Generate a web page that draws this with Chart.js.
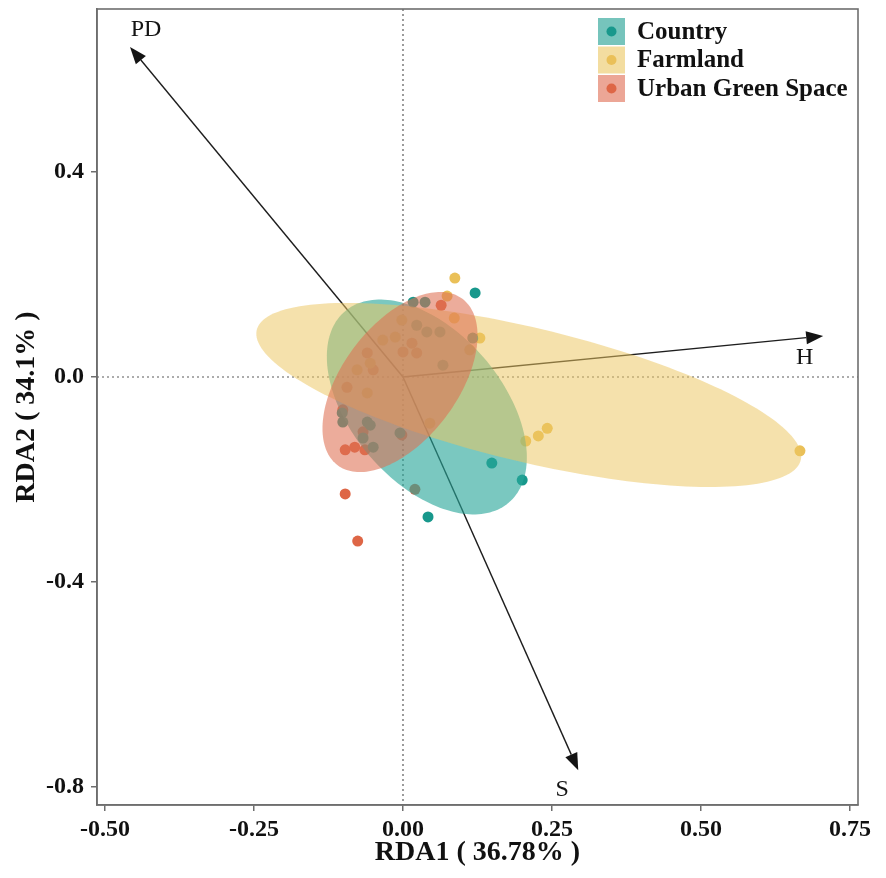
<!DOCTYPE html>
<html>
<head>
<meta charset="utf-8">
<script src="https://cdn.jsdelivr.net/npm/chart.js@4/dist/chart.umd.min.js"></script>
<style>
html,body{margin:0;padding:0;background:#fff;}
#wrap{width:886px;height:878px;}
</style>
</head>
<body>
<div id="wrap"><canvas id="c" width="886" height="878"></canvas></div>
<script>
// ---------- data ----------
const groups = ["Country", "Farmland", "Urban Green Space"];

const countryX = [0.121, 0.200, 0.042, 0.017, 0.037, -0.102, -0.101, -0.060, -0.055, -0.067, -0.050, 0.023, 0.062, 0.040, 0.067, 0.149, -0.005, 0.117];
const countryY = [0.164, -0.201, -0.273, 0.146, 0.146, -0.070, -0.088, -0.088, -0.094, -0.119, -0.137, 0.101, 0.088, 0.088, 0.023, -0.168, -0.109, 0.076];

const farmX = [0.087, 0.074, 0.666, 0.242, 0.227, 0.206, 0.129, 0.086, -0.002, -0.013, -0.034, -0.077, -0.055, 0.112, 0.045, -0.060];
const farmY = [0.193, 0.158, -0.144, -0.100, -0.115, -0.125, 0.076, 0.115, 0.111, 0.078, 0.072, 0.014, 0.027, 0.053, -0.090, -0.031];

const urbanX = [0.064, -0.097, -0.081, -0.097, -0.076, 0.020, 0.015, 0.000, 0.023, -0.060, -0.050, -0.094, -0.101, -0.067, -0.064, -0.002];
const urbanY = [0.140, -0.142, -0.137, -0.228, -0.320, -0.219, 0.066, 0.049, 0.047, 0.047, 0.014, -0.020, -0.064, -0.107, -0.142, -0.113];

// confidence ellipses: center and two conjugate semi-axis vectors (data units)
const ellCX = [0.040, 0.211, -0.005];
const ellCY = [-0.0585, -0.035, -0.0098];
const ellAX = [0.1376, 0.4564, 0.1047];
const ellAY = [-0.1865, -0.1118, 0.1623];
const ellBX = [0.0960, -0.0255, 0.0772];
const ellBY = [0.0956, 0.1405, -0.0673];

// environmental vectors
const arrowNames = ["PD", "H", "S"];
const arrowX = [-0.458, 0.705, 0.294];
const arrowY = [0.644, 0.080, -0.767];
const arrowLabelX = [-0.431, 0.674, 0.267];
const arrowLabelY = [0.677, 0.037, -0.806];

const xTicks = [-0.50, -0.25, 0.00, 0.25, 0.50, 0.75];
const yTicks = [-0.8, -0.4, 0.0, 0.4];

// ---------- styles ----------
const pointColors = ["rgb(24,152,140)", "rgb(234,192,88)", "rgb(222,102,70)"];
const fillColors = ["rgba(40,166,154,0.62)", "rgba(236,198,96,0.52)", "rgba(222,112,82,0.58)"];
const keyColors = ["rgb(118,196,188)", "rgb(243,221,160)", "rgb(236,166,150)"];
const SERIF = '"Liberation Serif", "DejaVu Serif", serif';

function pts(xs, ys) { return xs.map((x, i) => ({x: x, y: ys[i]})); }

const backgroundPlugin = {
  id: 'bgLayer',
  beforeDatasetsDraw(chart) {
    const {ctx, chartArea: a, scales: {x, y}} = chart;
    ctx.save();
    // dotted zero lines
    ctx.strokeStyle = 'rgb(90,90,90)';
    ctx.lineWidth = 1.2;
    ctx.setLineDash([2, 3]);
    ctx.beginPath();
    const x0 = x.getPixelForValue(0), y0 = y.getPixelForValue(0);
    ctx.moveTo(x0, a.top); ctx.lineTo(x0, a.bottom);
    ctx.moveTo(a.left, y0); ctx.lineTo(a.right, y0);
    ctx.stroke();
    ctx.setLineDash([]);
    // arrows
    ctx.strokeStyle = 'rgb(30,30,30)';
    ctx.fillStyle = 'rgb(20,20,20)';
    ctx.lineWidth = 1.4;
    for (let i = 0; i < arrowNames.length; i++) {
      const tx = x.getPixelForValue(arrowX[i]), ty = y.getPixelForValue(arrowY[i]);
      const ang = Math.atan2(ty - y0, tx - x0);
      const hl = 17, hw = 6.5;
      const bx = tx - hl * Math.cos(ang), by = ty - hl * Math.sin(ang);
      ctx.beginPath(); ctx.moveTo(x0, y0); ctx.lineTo(bx, by); ctx.stroke();
      ctx.beginPath();
      ctx.moveTo(tx, ty);
      ctx.lineTo(bx + hw * Math.sin(ang), by - hw * Math.cos(ang));
      ctx.lineTo(bx - hw * Math.sin(ang), by + hw * Math.cos(ang));
      ctx.closePath(); ctx.fill();
    }
    ctx.restore();
  },
  afterDatasetsDraw(chart) {
    const {ctx, chartArea: a, scales: {x, y}} = chart;
    ctx.save();
    ctx.beginPath(); ctx.rect(a.left, a.top, a.right - a.left, a.bottom - a.top); ctx.clip();
    for (let g = 0; g < 3; g++) {
      ctx.beginPath();
      const n = 180;
      for (let k = 0; k <= n; k++) {
        const t = 2 * Math.PI * k / n;
        const dx = ellCX[g] + Math.cos(t) * ellAX[g] + Math.sin(t) * ellBX[g];
        const dy = ellCY[g] + Math.cos(t) * ellAY[g] + Math.sin(t) * ellBY[g];
        const px = x.getPixelForValue(dx), py = y.getPixelForValue(dy);
        if (k === 0) ctx.moveTo(px, py); else ctx.lineTo(px, py);
      }
      ctx.closePath();
      ctx.fillStyle = fillColors[g];
      ctx.fill();
    }
    ctx.restore();
    ctx.save();
    // arrow labels
    ctx.fillStyle = 'rgb(20,20,20)';
    ctx.font = '24px ' + SERIF;
    ctx.textAlign = 'center';
    ctx.textBaseline = 'middle';
    for (let i = 0; i < arrowNames.length; i++) {
      ctx.fillText(arrowNames[i], x.getPixelForValue(arrowLabelX[i]), y.getPixelForValue(arrowLabelY[i]));
    }
    // frame
    ctx.strokeStyle = 'rgb(110,110,110)';
    ctx.lineWidth = 1.6;
    ctx.strokeRect(a.left, a.top, a.right - a.left, a.bottom - a.top);
    // legend
    const lx = 598, ly = 18, ks = 27, pitch = 28.5;
    for (let g = 0; g < 3; g++) {
      const top = ly + g * pitch;
      ctx.fillStyle = keyColors[g];
      ctx.fillRect(lx, top, ks, ks);
      ctx.fillStyle = pointColors[g];
      ctx.beginPath(); ctx.arc(lx + ks / 2, top + ks / 2, 5, 0, 2 * Math.PI); ctx.fill();
      ctx.fillStyle = '#111';
      ctx.font = 'bold 25px ' + SERIF;
      ctx.textAlign = 'left';
      ctx.textBaseline = 'middle';
      ctx.fillText(groups[g], lx + 39, top + ks / 2 + 1);
    }
    ctx.restore();
  }
};

const datasets = [
  {label: groups[0], data: pts(countryX, countryY)},
  {label: groups[1], data: pts(farmX, farmY)},
  {label: groups[2], data: pts(urbanX, urbanY)}
].map((d, i) => Object.assign(d, {
  backgroundColor: pointColors[i], borderColor: pointColors[i],
  pointRadius: 5.5, pointHoverRadius: 5.5, borderWidth: 0
}));

new Chart(document.getElementById('c'), {
  type: 'scatter',
  data: {datasets: datasets},
  plugins: [backgroundPlugin],
  options: {
    responsive: false,
    animation: false,
    devicePixelRatio: 1,
    layout: {padding: {left: 0, right: 28, top: 9, bottom: 0}},
    plugins: {legend: {display: false}, tooltip: {enabled: false}},
    scales: {
      x: {
        type: 'linear', min: -0.5134, max: 0.7634,
        afterBuildTicks: s => { s.ticks = xTicks.map(v => ({value: v})); },
        afterFit: s => { s.height = 73; s.paddingLeft = 0; s.paddingRight = 0; },
        grid: {drawOnChartArea: false, drawTicks: true, tickLength: 6, color: 'rgb(110,110,110)', lineWidth: 1.5},
        border: {display: true, color: 'rgb(110,110,110)', width: 1.6},
        ticks: {color: '#111', padding: 4, maxRotation: 0, autoSkip: false,
          font: {family: SERIF, size: 24, weight: 'bold'},
          callback: v => Number(v).toFixed(2)},
        title: {display: true, text: 'RDA1 ( 36.78% )', color: '#111',
          font: {family: SERIF, size: 28, weight: 'bold'}, padding: {top: 0, bottom: 8}}
      },
      y: {
        type: 'linear', min: -0.835, max: 0.718,
        afterBuildTicks: s => { s.ticks = yTicks.map(v => ({value: v})); },
        afterFit: s => { s.width = 97; s.paddingTop = 0; s.paddingBottom = 0; },
        grid: {drawOnChartArea: false, drawTicks: true, tickLength: 6, color: 'rgb(110,110,110)', lineWidth: 1.5},
        border: {display: true, color: 'rgb(110,110,110)', width: 1.6},
        ticks: {color: '#111', padding: 7, autoSkip: false,
          font: {family: SERIF, size: 24, weight: 'bold'},
          callback: v => Number(v).toFixed(1)},
        title: {display: true, text: 'RDA2 ( 34.1% )', color: '#111',
          font: {family: SERIF, size: 28, weight: 'bold'}, padding: {top: 10, bottom: 0}}
      }
    }
  }
});
</script>
</body>
</html>
